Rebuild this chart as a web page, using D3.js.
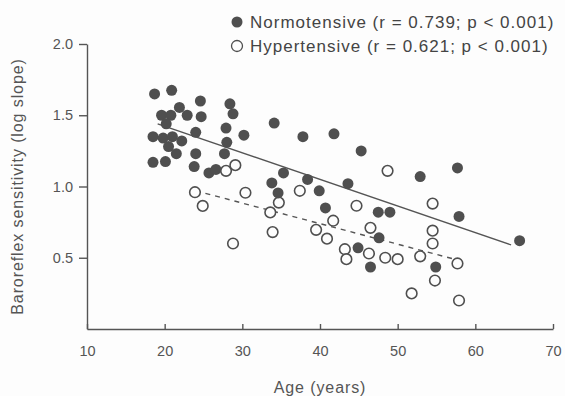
<!DOCTYPE html>
<html>
<head>
<meta charset="utf-8">
<script src="https://cdn.jsdelivr.net/npm/d3@7"></script>
<style>
  body { margin: 0; background: #fdfdfd; }
  svg { font-family: "Liberation Sans", Arial, sans-serif; }
  .axis path, .axis line { stroke: #555; stroke-width: 1.4; }
  .axis text { fill: #555; font-size: 14.5px; }
</style>
</head>
<body>
<svg></svg>
<script>
// ages / values
const normAge = [18.7, 20.9, 18.5, 18.5, 19.6, 20.8, 21.9, 22.9, 20.2, 19.8, 21.0, 22.2, 20.5, 20.1, 21.5,
  24.6, 24.7, 24.0, 24.0, 23.8, 25.7, 26.6, 28.4, 28.8, 27.9, 28.0, 27.7, 30.2, 34.1, 33.8, 34.6, 35.3,
  37.8, 41.8, 45.3, 38.4, 39.9, 40.7, 43.6, 52.9, 57.7, 57.9, 65.7, 47.5, 49.0, 47.6, 44.9, 46.5, 54.9]
const normVal = [1.65, 1.675, 1.35, 1.17, 1.50, 1.50, 1.555, 1.50, 1.44, 1.34, 1.35, 1.32, 1.28, 1.175, 1.23,
  1.60, 1.49, 1.38, 1.23, 1.14, 1.095, 1.12, 1.58, 1.51, 1.41, 1.31, 1.23, 1.36, 1.445, 1.025, 0.955, 1.095,
  1.35, 1.37, 1.25, 1.05, 0.97, 0.85, 1.02, 1.07, 1.13, 0.79, 0.62, 0.82, 0.82, 0.64, 0.57, 0.435, 0.435]

const hyperAge = [23.9, 24.9, 27.9, 29.1, 28.8, 30.4, 33.6, 33.9, 34.7, 37.4, 39.5, 40.9, 41.7, 44.7, 43.2,
  43.4, 46.5, 46.3, 48.4, 50.0, 48.7, 52.9, 51.8, 54.5, 54.5, 54.5, 54.8, 57.7, 57.9]
const hyperVal = [0.96, 0.864, 1.11, 1.15, 0.60, 0.956, 0.818, 0.68, 0.887, 0.97, 0.696, 0.634, 0.76, 0.865, 0.56,
  0.49, 0.71, 0.53, 0.50, 0.49, 1.11, 0.51, 0.25, 0.88, 0.69, 0.60, 0.34, 0.46, 0.20]

// regression line end points
const normLine = [[19.1, 1.44], [64.6, 0.59]]
const hyperLine = [[24.0, 0.97], [57.3, 0.49]]

const xTicks = [10, 20, 30, 40, 50, 60, 70]
const yTicks = [0.5, 1.0, 1.5, 2.0]
const legendLabels = ["Normotensive (r = 0.739; p < 0.001)", "Hypertensive (r = 0.621; p < 0.001)"]

const width = 565, height = 396
const margin = { top: 44, right: 12, bottom: 67, left: 87 }
const ink = "#4f4f4f"

const svg = d3.select('svg')
    .attr("width", width)
    .attr("height", height)

const x = d3.scaleLinear()
    .domain([10, 70])
    .range([margin.left, width - margin.right])

const y = d3.scaleLinear()
    .domain([0, 2])
    .range([height - margin.bottom, margin.top])

svg.append("g")
    .attr("class", "axis x")
    .attr("transform", `translate(0,${height - margin.bottom})`)
    .call(d3.axisBottom(x).tickValues(xTicks).tickFormat(d3.format("d"))
        .tickSizeInner(-5).tickSizeOuter(0).tickPadding(17))

svg.append("g")
    .attr("class", "axis y")
    .attr("transform", `translate(${margin.left},0)`)
    .call(d3.axisLeft(y).tickValues(yTicks).tickFormat(d3.format(".1f"))
        .tickSizeInner(8).tickSizeOuter(0).tickPadding(6))

svg.append("text")
    .attr("x", (margin.left + width - margin.right) / 2)
    .attr("y", 393)
    .attr("text-anchor", "middle")
    .attr("fill", "#555")
    .attr("font-size", 16)
    .attr("letter-spacing", 0.9)
    .text("Age (years)")

svg.append("text")
    .attr("transform", `translate(23,${(margin.top + height - margin.bottom) / 2}) rotate(-90)`)
    .attr("text-anchor", "middle")
    .attr("fill", "#555")
    .attr("font-size", 16)
    .attr("letter-spacing", 0.9)
    .text("Baroreflex sensitivity (log slope)")

const line = d3.line().x(d => x(d[0])).y(d => y(d[1]))

svg.append("path")
    .attr("d", line(normLine))
    .attr("fill", "none")
    .attr("stroke", "#555")
    .attr("stroke-width", 1.4)

svg.append("path")
    .attr("d", line(hyperLine))
    .attr("fill", "none")
    .attr("stroke", "#555")
    .attr("stroke-width", 1.4)
    .attr("stroke-dasharray", "5,5")

svg.append("g").selectAll("circle")
    .data(hyperAge)
    .enter()
    .append("circle")
    .attr("cx", d => x(d))
    .attr("cy", (_, i) => y(hyperVal[i]))
    .attr("r", 5.3)
    .attr("fill", "#fdfdfd")
    .attr("stroke", ink)
    .attr("stroke-width", 1.6)

svg.append("g").selectAll("circle")
    .data(normAge)
    .enter()
    .append("circle")
    .attr("cx", d => x(d))
    .attr("cy", (_, i) => y(normVal[i]))
    .attr("r", 5.5)
    .attr("fill", ink)

// legend
const legend = svg.append("g").attr("transform", "translate(237,22)")
legend.selectAll("circle")
    .data(legendLabels)
    .enter()
    .append("circle")
    .attr("cx", 0)
    .attr("cy", (_, i) => i * 24)
    .attr("r", 5.5)
    .attr("fill", (_, i) => i ? "#fdfdfd" : ink)
    .attr("stroke", ink)
    .attr("stroke-width", (_, i) => i ? 1.3 : 0)

legend.selectAll("text")
    .data(legendLabels)
    .enter()
    .append("text")
    .attr("x", 13)
    .attr("y", (_, i) => i * 24 + 6)
    .attr("fill", "#444")
    .attr("font-size", 17)
    .attr("letter-spacing", 1)
    .text(d => d)
</script>
</body>
</html>
